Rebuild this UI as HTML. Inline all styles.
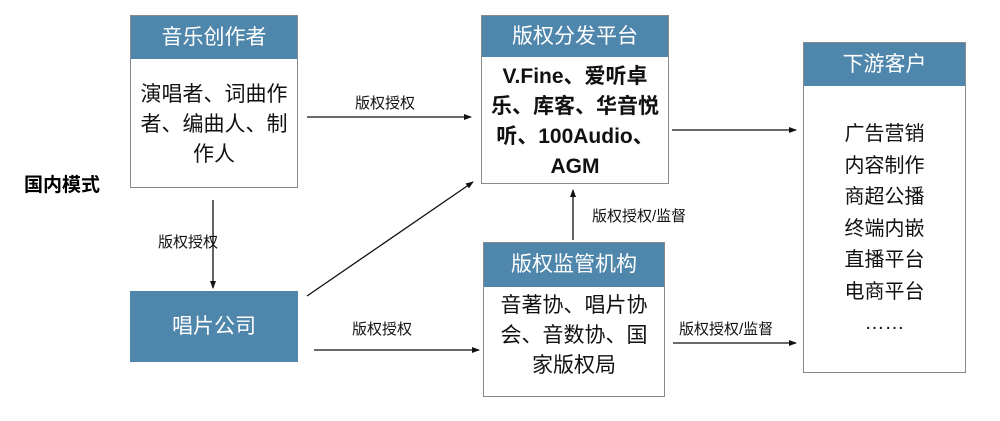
<!DOCTYPE html><html><head><meta charset="utf-8"><style>
body{margin:0;width:1000px;height:421px;background:#fff;position:relative;font-family:"Liberation Sans","Noto Sans CJK SC",sans-serif;overflow:hidden}
.a{position:absolute;box-sizing:border-box}
.box{border:1.5px solid #8a8a8a;background:#fff}
.hd{position:absolute;left:0;right:0;top:0;background:#4f86ab;color:#fff;font-size:21px;text-align:center}
.bd{position:absolute;left:0;right:0;text-align:center;font-size:21px;color:#111;white-space:nowrap}
.lb{position:absolute;font-size:15px;color:#111;white-space:nowrap}
</style></head><body>
<div class="a box" style="left:130px;top:15px;width:168px;height:173px">
<div class="hd" style="height:43px;line-height:43px">音乐创作者</div>
<div class="bd" style="top:64px;line-height:30px">演唱者、词曲作<br>者、编曲人、制<br>作人</div></div>
<div class="a box" style="left:481px;top:15px;width:188px;height:169px">
<div class="hd" style="height:41px;line-height:41px">版权分发平台</div>
<div class="bd" style="top:46px;line-height:30px;font-weight:bold">V.Fine、爱听卓<br>乐、库客、华音悦<br>听、100Audio、<br>AGM</div></div>
<div class="a box" style="left:483px;top:242px;width:182px;height:155px">
<div class="hd" style="height:44px;line-height:44px">版权监管机构</div>
<div class="bd" style="top:48px;line-height:30px">音著协、唱片协<br>会、音数协、国<br>家版权局</div></div>
<div class="a" style="left:130px;top:291px;width:168px;height:71px;background:#4f86ab;color:#fff;font-size:21px;text-align:center;line-height:71px">唱片公司</div>
<div class="a box" style="left:803px;top:42px;width:163px;height:331px">
<div class="hd" style="height:43px;line-height:43px">下游客户</div>
<div class="bd" style="top:76px;line-height:31.5px;font-size:20px">广告营销<br>内容制作<br>商超公播<br>终端内嵌<br>直播平台<br>电商平台<br>……</div></div>
<div class="a" style="left:24px;top:170px;font-size:19px;font-weight:bold">国内模式</div>
<div class="lb" style="left:355px;top:92px">版权授权</div>
<div class="lb" style="left:158px;top:231px">版权授权</div>
<div class="lb" style="left:352px;top:318px">版权授权</div>
<div class="lb" style="left:592px;top:205px">版权授权/监督</div>
<div class="lb" style="left:679px;top:318px">版权授权/监督</div>
<svg class="a" style="left:0;top:0" width="1000" height="421"><defs><marker id="m" markerWidth="8" markerHeight="8" refX="7" refY="4" orient="auto" markerUnits="userSpaceOnUse"><path d="M0,1 L8,4 L0,7z" fill="#111"/></marker></defs>
<g stroke="#111" stroke-width="1.3" fill="none" marker-end="url(#m)">
<line x1="307" y1="117" x2="471" y2="117"/>
<line x1="672" y1="130" x2="796" y2="130"/>
<line x1="213" y1="200" x2="213" y2="288"/>
<line x1="307" y1="296" x2="473" y2="182"/>
<line x1="314" y1="350" x2="479" y2="350"/>
<line x1="573" y1="240" x2="573" y2="190"/>
<line x1="673" y1="343" x2="796" y2="343"/>
</g></svg>
</body></html>
